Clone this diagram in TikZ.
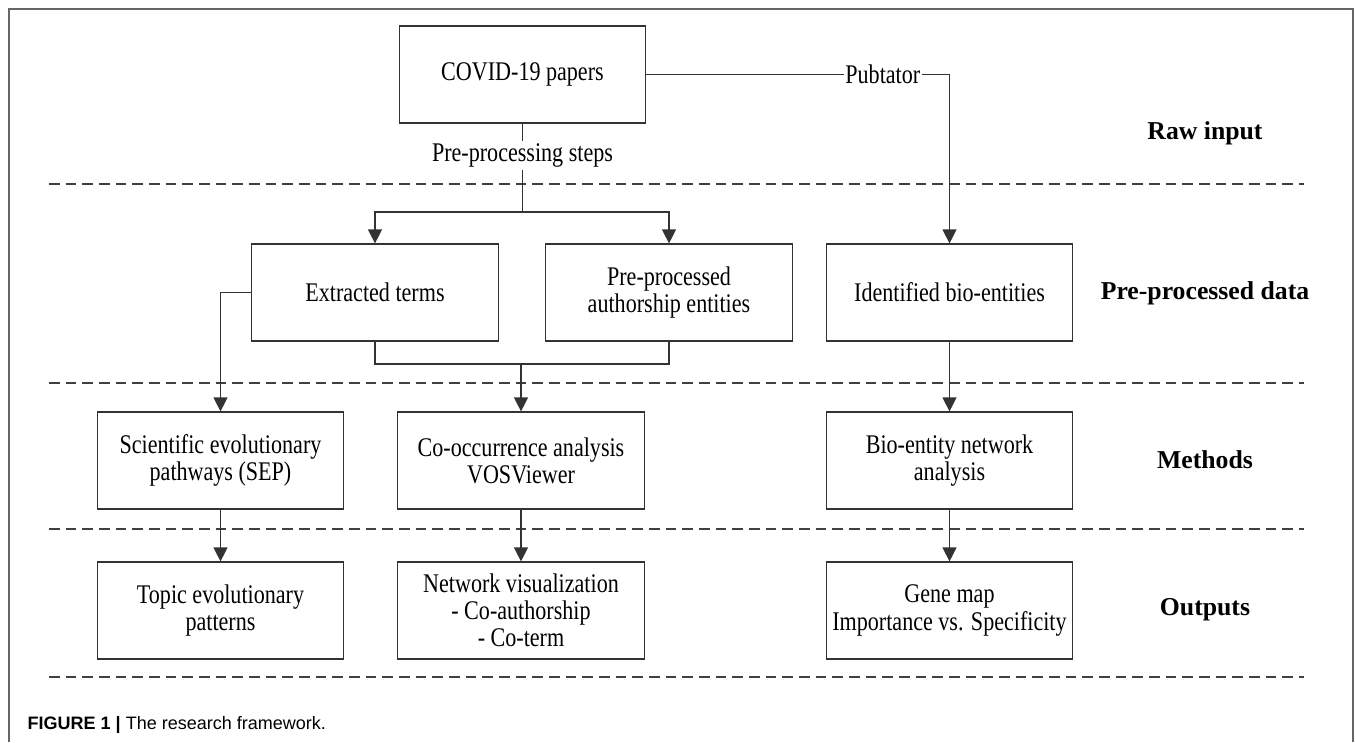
\documentclass[tikz,border=0pt]{standalone}
\usepackage{fontspec}
\setmainfont{Liberation Serif}
\newfontfamily\boxfont[FakeStretch=0.82]{Liberation Serif}
\newfontfamily\capfont{Liberation Sans}
\usepackage{tikz}
\usetikzlibrary{arrows.meta}
\usetikzlibrary{positioning}
\tikzset{
    box/.style={draw=black!80, line width=0.9pt, minimum width=185pt, minimum height=72.75pt,
        inner sep=0pt, align=center, font=\boxfont\fontsize{20.2}{20.3}\selectfont},
    link/.style={draw=black!80, line width=0.9pt},
    flow/.style={link, -{Triangle[length=10.5pt,width=10.5pt]}},
    onlabel/.style={fill=white, inner sep=2pt, font=\boxfont\fontsize{20.2}{20.3}\selectfont},
    layer/.style={font=\fontsize{19.3}{23}\selectfont\bfseries},
    divider/.style={draw=black!75, line width=0.9pt, dash pattern=on 8pt off 4.5pt},
}

\begin{document}
\begin{tikzpicture}[x=0.75pt,y=-0.75pt]
\useasboundingbox (0,0) rectangle (1355,742);
\draw[black!60, line width=1.5pt] (9,742) -- (9,9) -- (1353,9) -- (1353,742);

\foreach \y in {184,383,529,677}
    \draw[divider] (49,\y) -- (1304,\y);

\node[box] (covid) at (522.5,74.5) {COVID-19 papers};
\node[box] (terms) at (375,292.5) {Extracted terms};
\node[box] (auth) at (669,292.5) {Pre-processed\\authorship entities};
\node[box] (ident) at (949.5,292.5) {Identified bio-entities};
\node[box] (sep) at (220.5,460.5) {Scientific evolutionary\\pathways (SEP)};
\node[box] (cooc) at (521,460.5) {Co-occurrence analysis\\VOSViewer};
\node[box] (bionet) at (949.5,460.5) {Bio-entity network\\analysis};
\node[box] (topic) at (220.5,610.5) {Topic evolutionary\\patterns};
\node[box] (netvis) at (521,610.5) {Network visualization\\- Co-authorship\\- Co-term};
\node[box] (genemap) at (949.5,610.5) {Gene map\\Importance vs. Specificity};

\node[layer] (raw) at (1205,133) {Raw input};
\node[layer] (prep) at (1205,293) {Pre-processed data};
\node[layer] (meth) at (1205,460) {Methods};
\node[layer] (outp) at (1205,610) {Outputs};

\coordinate (split) at (522.5,212);
\coordinate (merge) at (521,364);

\draw[link] (covid.south) -- node[onlabel, pos=0.36] {Pre-processing steps} (split);
\draw[flow] (split) -| (terms.north);
\draw[flow] (split) -| (auth.north);
\draw[flow] (covid.east) -- node[onlabel, pos=0.78, inner sep=1pt] {Pubtator} (covid.east -| ident.north) -- (ident.north);

\draw[flow] (terms.west) -| (sep.north);
\draw[link] (terms.south) |- (merge) -| (auth.south);
\draw[flow] (merge) -- (cooc.north);
\draw[flow] (ident) -- (bionet);

\draw[flow] (sep) -- (topic);
\draw[flow] (cooc) -- (netvis);
\draw[flow] (bionet) -- (genemap);

\node[anchor=west, font=\capfont\fontsize{13.5}{16}\selectfont] (caption) at (23,725)
    {\textbf{FIGURE 1 |} The research framework.};
\end{tikzpicture}
\end{document}
